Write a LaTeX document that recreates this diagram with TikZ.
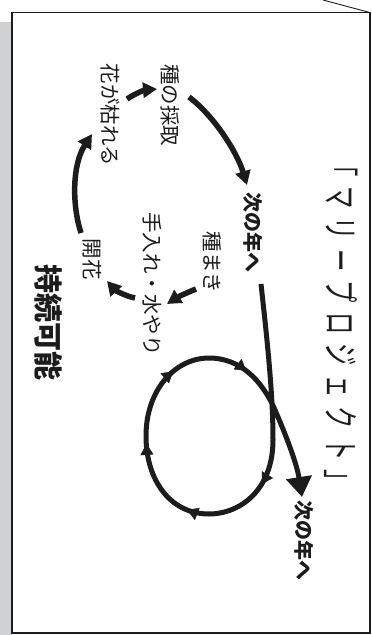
\documentclass[tikz,border=0pt]{standalone}
\usepackage{fontspec}
\usepackage{graphicx}
\newfontfamily\jp{Noto Sans CJK JP}
\usetikzlibrary{arrows.meta,decorations.markings}
\definecolor{ink}{RGB}{28,28,28}
\definecolor{strip}{RGB}{207,209,211}
\newcommand{\tcell}[1]{\makebox[31.5pt]{\scalebox{0.62}[1]{#1}}}
\begin{document}
\begin{tikzpicture}[x=1pt,y=-1pt,
  lbl/.style={rotate=-90, inner sep=0pt, text=ink, font=\jp\fontsize{20.5pt}{21pt}\selectfont},
  lblb/.style={rotate=-90, inner sep=0pt, text=ink, font=\jp\bfseries\fontsize{20pt}{21pt}\selectfont},
  big/.style={rotate=-90, inner sep=0pt, text=ink, font=\jp\bfseries\fontsize{29pt}{30pt}\selectfont},
  titlelbl/.style={rotate=-90, inner sep=0pt, text=ink, font=\jp\fontsize{36pt}{37pt}\selectfont},
  flow/.style={draw=ink, line width=5.5pt, -{Triangle[length=14pt,width=15pt]}},
  mid/.style={decorate, decoration={markings, mark=at position #1 with {\arrow[ink]{Triangle[length=11pt,width=13pt]}}}}
]
\useasboundingbox (0,0) rectangle (372,635);
% page background pieces
\fill[strip] (0,22) rectangle (11.5,635);
\fill[white] (11.5,12.5) rectangle (370.5,633.5);
\draw[ink, line width=1.6pt] (11.8,12.6) rectangle (370.2,633.2);
\draw[ink, line width=0.9pt] (323,0) -- (370.2,12.6);

% labels
\node[titlelbl] (title) at (341,323.5) {\tcell{「}\tcell{マ}\tcell{リ}\tcell{ー}\tcell{プ}\tcell{ロ}\tcell{ジ}\tcell{ェ}\tcell{ク}\tcell{ト}\tcell{」}};
\node[lbl] (harvest) at (170,105) {種の採取};
\node[lbl] (wither) at (110,115) {花が枯れる};
\node[lblb] (next1) at (253.5,232.5) {次の年へ};
\node[lbl] (sow) at (212,262.5) {種まき};
\node[lbl] (care) at (152.5,284) {手入れ・水やり};
\node[lbl] (bloom) at (92.5,259) {開花};
\node[big] (sust) at (48.5,322.5) {持続可能};
\node[lblb] (next2) at (304,540.5) {次の年へ};

% connector end points
\coordinate (a1s) at (127,99);   \coordinate (a1e) at (157,89);
\coordinate (a2s) at (189,97);   \coordinate (a2e) at (247,185);
\coordinate (a4s) at (196,289);  \coordinate (a4e) at (167,304);
\coordinate (a5s) at (135,298);  \coordinate (a5e) at (107,281);
\coordinate (a6s) at (81,233);   \coordinate (a6e) at (92,134);
\coordinate (l0) at (261,284);   \coordinate (l6) at (302,497);

% cycle arrows
\draw[flow] (a1s) .. controls (136,93) and (145,90) .. (a1e);
\draw[flow] (a2s) .. controls (214,116) and (237,152) .. (a2e);
\draw[flow] (a4s) .. controls (186,293) and (176,298) .. (a4e);
\draw[flow] (a5s) .. controls (125,296) and (115,290) .. (a5e);
\draw[flow] (a6s) .. controls (72,205) and (72,165) .. (a6e);

% loop to next year
\draw[draw=ink, line width=5pt, -{Triangle[length=20pt,width=25pt]}]
  (l0) .. controls (266,330) and (273,390) .. (273,440)
       .. controls (273,490) and (240,514) .. (209,514)
       .. controls (170,514) and (146,480) .. (146,436)
       .. controls (146,390) and (175,358) .. (209,358)
       .. controls (240,358) and (262,380) .. (275,410)
       .. controls (288,440) and (297,465) .. (l6);
\path[mid=0.42] (273,440) .. controls (273,490) and (240,514) .. (209,514);
\path[mid=0.2] (209,514) .. controls (170,514) and (146,480) .. (146,436);
\path[mid=0.93] (209,514) .. controls (170,514) and (146,480) .. (146,436);
\path[mid=0.65] (146,436) .. controls (146,390) and (175,358) .. (209,358);
\path[mid=0.45] (209,358) .. controls (240,358) and (262,380) .. (275,410);
\end{tikzpicture}
\end{document}
